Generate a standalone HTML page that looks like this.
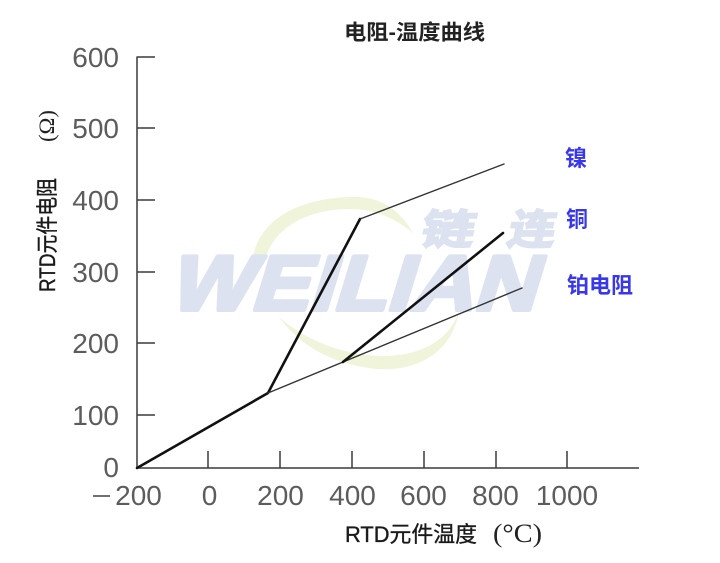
<!DOCTYPE html>
<html><head><meta charset="utf-8"><style>
html,body{margin:0;padding:0;background:#fff;}
svg{display:block;}
</style></head><body>
<svg width="720" height="563" viewBox="0 0 720 563" xmlns="http://www.w3.org/2000/svg">
<rect width="720" height="563" fill="#fff"/>
<!-- watermark swoosh -->
<path d="M252 276 C248 222 298 196 358 197 C385 198 402 214 413 233 C396 219 376 209 350 209 C302 209 270 232 264 264 Z" fill="#eff4da"/>
<path d="M279 317 C300 346 332 364 376 369 C420 372 453 350 459 311 C450 340 420 357 380 356 C340 354 305 340 279 317 Z" fill="#eff4da"/>
<!-- watermark text -->
<g transform="translate(167,310) skewX(-17)">
<text x="0" y="0" font-family="Liberation Sans, sans-serif" font-weight="bold" font-size="78" fill="#dce2f0" stroke="#dce2f0" stroke-width="4" stroke-linejoin="round" textLength="368" lengthAdjust="spacingAndGlyphs">WEILIAN</text>
</g>
<g transform="translate(419,244) skewX(-12) scale(1.3,1)">
<text x="0" y="0" font-family="Liberation Sans, 'Noto Sans CJK SC', sans-serif" font-weight="bold" font-size="41" fill="#dce2f0" stroke="#dce2f0" stroke-width="2">链</text>
</g>
<g transform="translate(506,244) skewX(-12) scale(1.15,1)">
<text x="0" y="0" font-family="Liberation Sans, 'Noto Sans CJK SC', sans-serif" font-weight="bold" font-size="41" fill="#dce2f0" stroke="#dce2f0" stroke-width="2">连</text>
</g>
<!-- title -->
<text x="414.5" y="39.5" text-anchor="middle" font-family="Liberation Sans, 'Noto Sans CJK SC', sans-serif" font-weight="bold" font-size="21" fill="#222" textLength="141" lengthAdjust="spacingAndGlyphs">电阻-温度曲线</text>
<!-- axes -->
<g stroke="#3a3a3a" stroke-width="1.5" fill="none">
<line x1="137" y1="56.5" x2="137" y2="468"/>
<line x1="136.5" y1="468" x2="639" y2="468"/>
<line x1="137" y1="57" x2="155" y2="57"/>
<line x1="137" y1="128" x2="155" y2="128"/>
<line x1="137" y1="200" x2="155" y2="200"/>
<line x1="137" y1="272" x2="155" y2="272"/>
<line x1="137" y1="343" x2="155" y2="343"/>
<line x1="137" y1="415" x2="155" y2="415"/>
<line x1="208" y1="451" x2="208" y2="468"/>
<line x1="280" y1="451" x2="280" y2="468"/>
<line x1="352" y1="451" x2="352" y2="468"/>
<line x1="424" y1="451" x2="424" y2="468"/>
<line x1="496" y1="451" x2="496" y2="468"/>
<line x1="567" y1="451" x2="567" y2="468"/>
</g>
<!-- y tick labels -->
<g font-family="Liberation Sans, sans-serif" font-size="28" fill="#5c5c5c" text-anchor="end">
<text x="119" y="67">600</text>
<text x="119" y="138">500</text>
<text x="119" y="210">400</text>
<text x="119" y="282">300</text>
<text x="119" y="353">200</text>
<text x="119" y="425">100</text>
<text x="119" y="477">0</text>
</g>
<!-- x tick labels -->
<g font-family="Liberation Sans, sans-serif" font-size="28" fill="#5c5c5c" text-anchor="middle">
<text x="138.5" y="505">200</text>
<text x="209.5" y="505">0</text>
<text x="280.5" y="505">200</text>
<text x="352.5" y="505">400</text>
<text x="423.5" y="505">600</text>
<text x="495.5" y="505">800</text>
<text x="567" y="505">1000</text>
</g>
<line x1="93" y1="496" x2="110" y2="496" stroke="#5c5c5c" stroke-width="1.8"/>
<!-- axis titles -->
<text x="345" y="542" font-family="Liberation Sans, 'Noto Sans CJK SC', sans-serif" font-size="22" fill="#1a1a1a" stroke="#1a1a1a" stroke-width="0.35" textLength="132" lengthAdjust="spacingAndGlyphs">RTD元件温度</text>
<text x="493" y="542" font-family="Liberation Serif, serif" font-size="26" fill="#222" textLength="49" lengthAdjust="spacingAndGlyphs">(°C)</text>
<g transform="translate(55,292) rotate(-90)">
<text x="0" y="0" font-family="Liberation Sans, 'Noto Sans CJK SC', sans-serif" font-size="22" fill="#1a1a1a" stroke="#1a1a1a" stroke-width="0.4" textLength="114" lengthAdjust="spacingAndGlyphs">RTD元件电阻</text>
<text x="150" y="-1" font-family="Liberation Serif, serif" font-size="22" fill="#222" textLength="32" lengthAdjust="spacingAndGlyphs">(Ω)</text>
</g>
<!-- series -->
<g fill="none" stroke-linecap="round" stroke-linejoin="round">
<polyline points="137,468 268,393 360,219" stroke="#111" stroke-width="2.6"/>
<line x1="360" y1="219" x2="504" y2="164" stroke="#333" stroke-width="1.4"/>
<line x1="268" y1="393" x2="522" y2="288" stroke="#333" stroke-width="1.4"/>
<line x1="343" y1="362" x2="503" y2="233" stroke="#111" stroke-width="2.6"/>
</g>
<!-- legend labels -->
<g font-family="Liberation Sans, 'Noto Sans CJK SC', sans-serif" font-size="22" font-weight="bold" fill="#3838ea">
<text x="565" y="166">镍</text>
<text x="566" y="227">铜</text>
<text x="567" y="293" textLength="66" lengthAdjust="spacingAndGlyphs">铂电阻</text>
</g>
</svg>
</body></html>
